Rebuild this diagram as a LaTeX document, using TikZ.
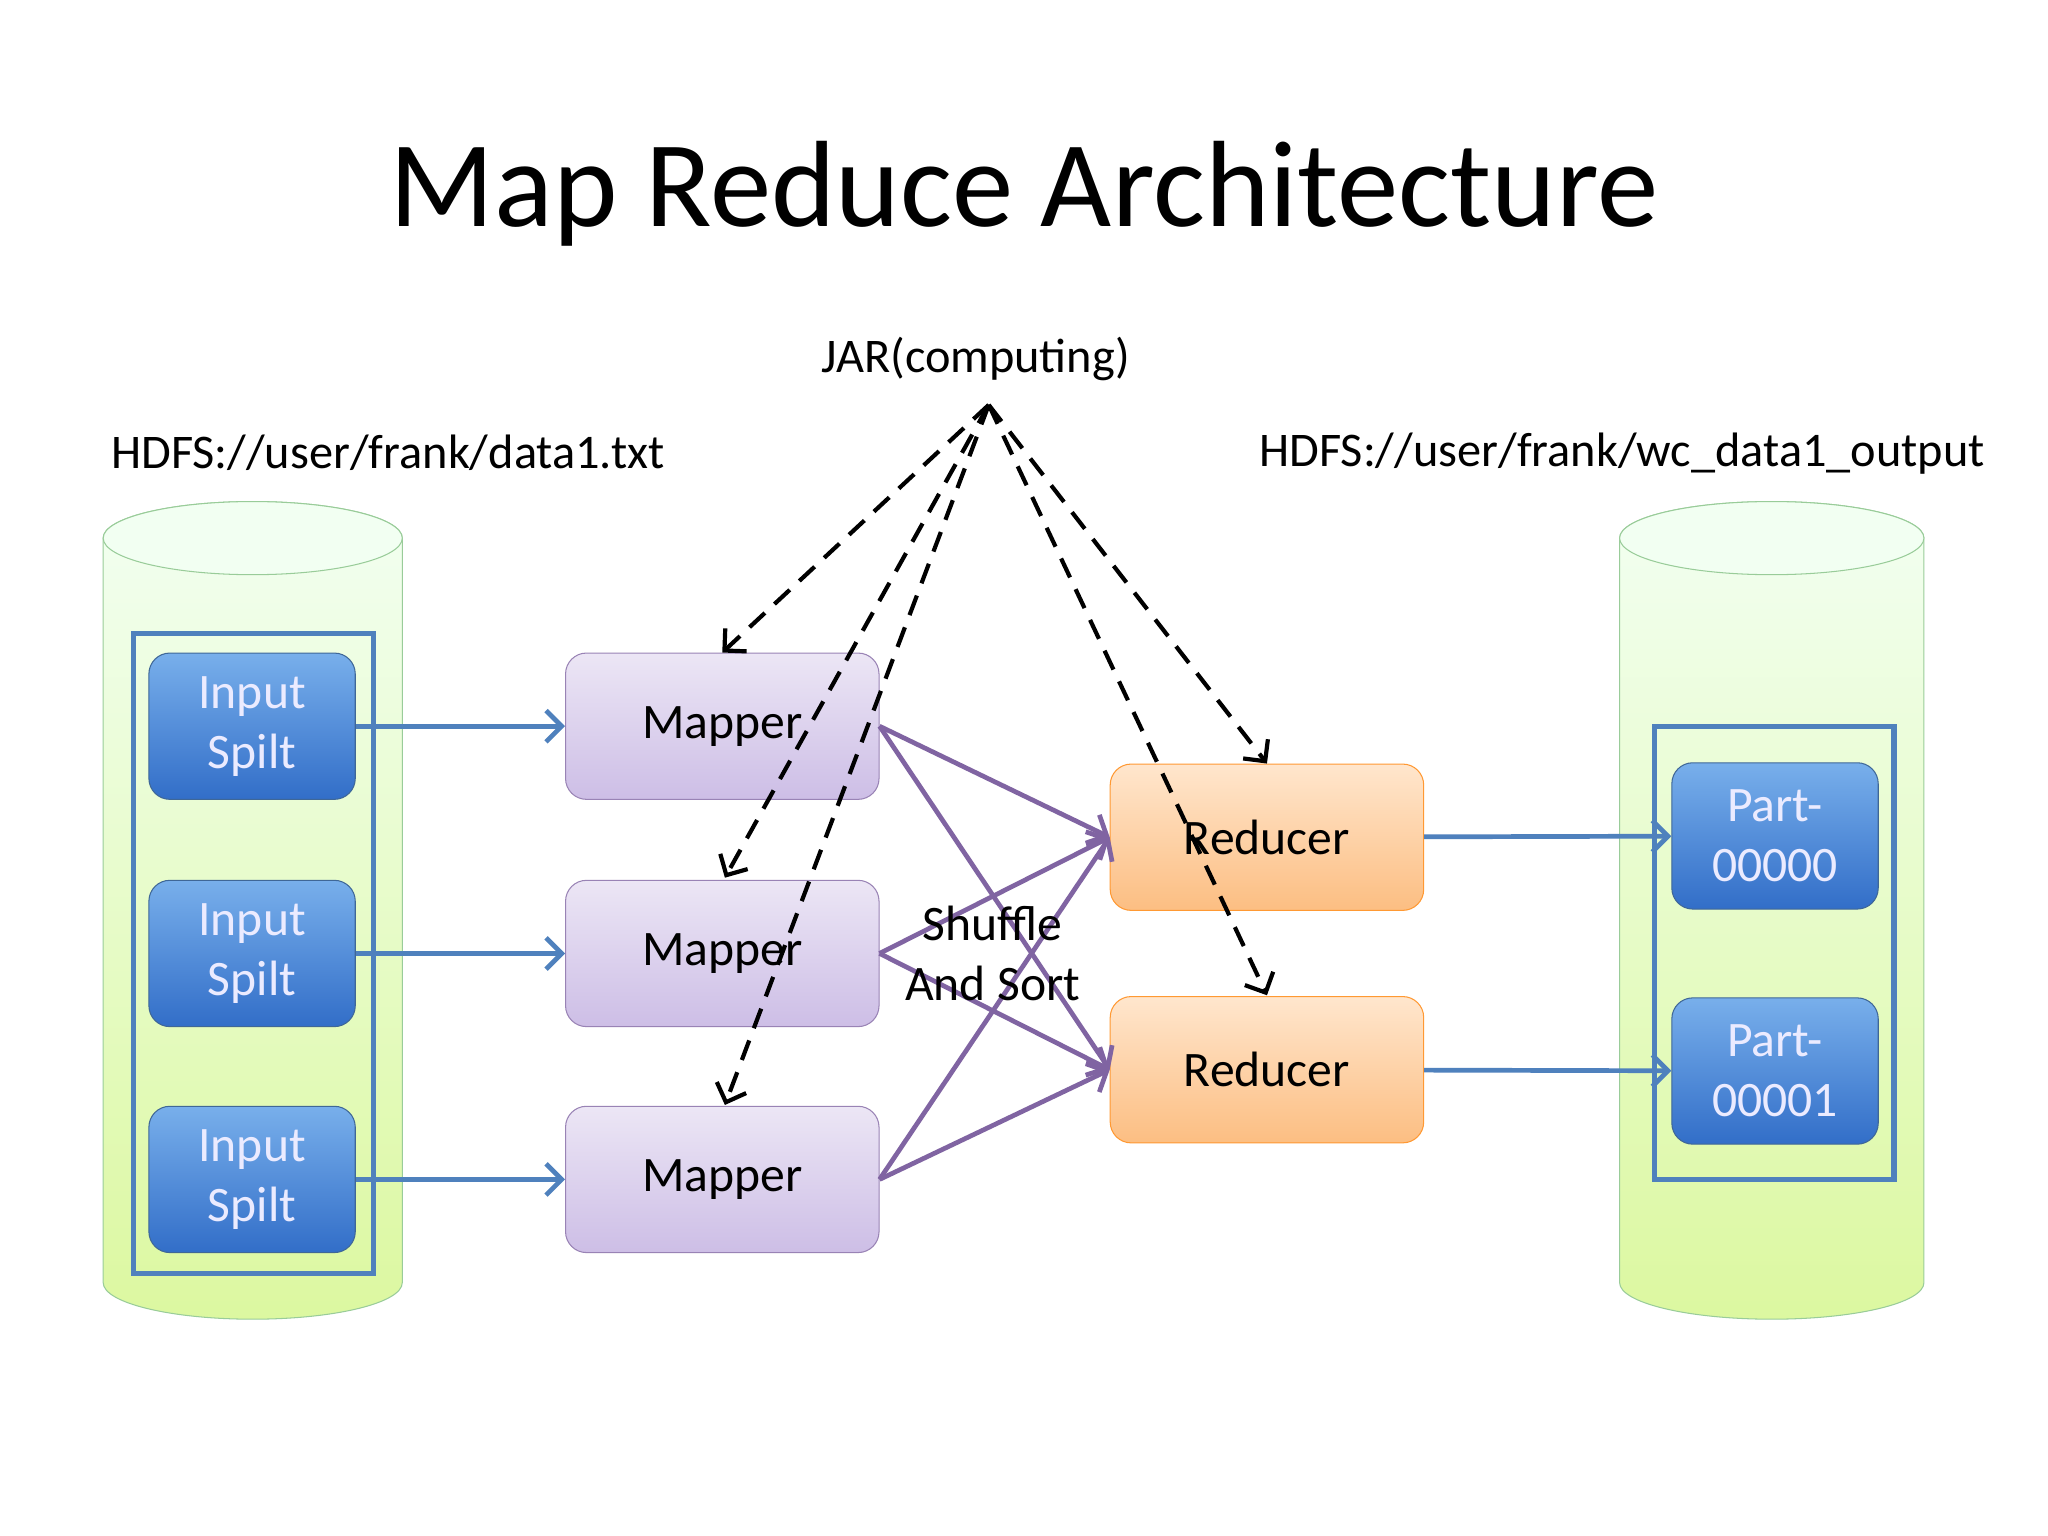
\documentclass[tikz,border=0pt]{standalone}
\usepackage{fontspec}
\setmainfont{Carlito}
\usetikzlibrary{arrows.meta}
\definecolor{ob}{RGB}{79,129,189}
\definecolor{op}{RGB}{128,100,162}
\begin{document}
\begin{tikzpicture}[x=0.5pt,y=-0.5pt,
 box/.style={rounded corners=8pt,minimum width=79pt,minimum height=56pt,align=center,font=\fontsize{19}{23}\selectfont},
 inp/.style={box,draw=ob!80!black,top color={rgb,255:red,120;green,175;blue,235},bottom color={rgb,255:red,50;green,110;blue,200},text=white!92!blue},
 map/.style={box,draw=op!80,top color={rgb,255:red,236;green,230;blue,245},bottom color={rgb,255:red,205;green,190;blue,230},minimum width=120pt},
 red/.style={box,draw=orange!80,top color={rgb,255:red,255;green,230;blue,205},bottom color={rgb,255:red,252;green,190;blue,130},minimum width=120pt},
 cyl/.style={draw=green!50!black!40,top color=green!5,bottom color={rgb,255:red,220;green,248;blue,160}},
 ar/.style={-{Straight Barb[length=6pt]},draw=ob,line width=1.8pt},
 pa/.style={-{Straight Barb[length=6pt]},draw=op,line width=1.8pt},
 da/.style={-{Straight Barb[length=6pt]},line width=1.6pt,dash pattern=on 8pt off 5pt}]
\useasboundingbox (0,0) rectangle (1568,1176);
\fill[white] (0,0) rectangle (1568,1176);
\node (title) at (784,148) {\fontsize{47}{50}\selectfont Map Reduce Architecture};
\node (jar) at (747,275) {\fontsize{18.5}{20}\selectfont JAR(computing)};
\coordinate (j) at (757,310);
\node (h1) at (297,347) {\fontsize{18.5}{20}\selectfont HDFS://user/frank/data1.txt};
\node (h2) at (1242,347) {\fontsize{18.5}{20}\selectfont HDFS://user/frank/wc\_data1\_output};
% cylinders
\foreach \a/\b in {79/308,1240/1473}{
 \path[cyl] (\a,412) -- (\a,982) arc[start angle=180,end angle=0,x radius={(\b-\a)/2},y radius=28] -- (\b,412) arc[start angle=0,end angle=-180,x radius={(\b-\a)/2},y radius=28] -- cycle;
 \draw[draw=green!50!black!40,fill=green!5] ({(\a+\b)/2},412) ellipse[x radius={(\b-\a)/2},y radius=28];
}
\draw[ob,line width=2pt] (102,485) rectangle (286,975);
\draw[ob,line width=2pt] (1267,556) rectangle (1450,903);
\node[inp] (i1) at (193,556) {Input\\Spilt};
\node[inp] (i2) at (193,730) {Input\\Spilt};
\node[inp] (i3) at (193,903) {Input\\Spilt};
\node[map] (m1) at (553,556) {Mapper};
\node[map] (m2) at (553,730) {Mapper};
\node[map] (m3) at (553,903) {Mapper};
\node[red] (r1) at (970,641) {Reducer};
\node[red] (r2) at (970,819) {Reducer};
\node[inp] (p1) at (1359,640) {Part-\\00000};
\node[inp] (p2) at (1359,820) {Part-\\00001};
\foreach \i in {1,2,3}{\draw[ar] (i\i) -- (m\i);}
\foreach \i in {1,2,3}{\foreach \r in {1,2}{\draw[pa] (m\i.east) -- (r\r.west);}}
\node[align=center,font=\fontsize{19}{23}\selectfont] (ss) at (760,730) {Shuffle\\And Sort};
\draw[ar] (r1) -- (p1);
\draw[ar] (r2) -- (p2);
\draw[da] (j) -- (m1.north);
\draw[da] (j) -- (555,672);
\draw[da] (j) -- (555,846);
\draw[da] (j) -- (r1.north);
\draw[da] (j) -- (970,762);
\end{tikzpicture}
\end{document}
